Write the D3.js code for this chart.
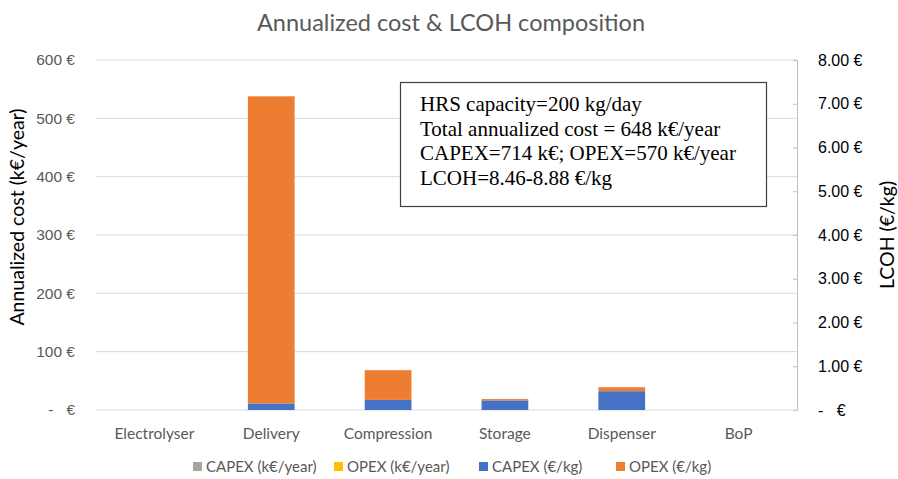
<!DOCTYPE html>
<html>
<head>
<meta charset="utf-8">
<script src="https://cdn.jsdelivr.net/npm/d3@7"></script>
<style>
  body { margin: 0; background: #fff; }
  svg { font-family: Lato, "Open Sans", sans-serif; }
  text { white-space: pre; }
</style>
</head>
<body>
<div id="chart"></div>
<script>
var width = 898;
var height = 479;
var margin = {top: 60, left: 96, right: 101, bottom: 69};

var categories = ["Electrolyser", "Delivery", "Compression", "Storage", "Dispenser", "BoP"];
var capexYear = [0, 0, 0, 0, 0, 0];        // k€/year
var opexYear = [0, 0, 0, 0, 0, 0];         // k€/year
var capexKg = [0, 0.15, 0.23, 0.22, 0.43, 0];  // €/kg
var opexKg = [0, 7.02, 0.68, 0.03, 0.09, 0];   // €/kg
var leftTicks = [0, 100, 200, 300, 400, 500, 600];
var rightTicks = [0, 1, 2, 3, 4, 5, 6, 7, 8];
var seriesNames = ["CAPEX (k€/year)", "OPEX (k€/year)", "CAPEX (€/kg)", "OPEX (€/kg)"];
var seriesColors = ["#A5A5A5", "#FFC000", "#4472C4", "#ED7D31"];
var noteLines = ["HRS capacity=200 kg/day",
                 "Total annualized cost = 648 k€/year",
                 "CAPEX=714 k€; OPEX=570 k€/year",
                 "LCOH=8.46-8.88 €/kg"];

var svg = d3.select("#chart")
  .append("svg")
  .attr("width", width)
  .attr("height", height);

var xScale = d3.scaleBand()
  .domain(categories)
  .range([margin.left, width - margin.right])
  .paddingInner(0.6)
  .paddingOuter(0.3);
var xBand = d3.scaleBand()
  .domain(categories)
  .range([margin.left, width - margin.right]);
var yLeft = d3.scaleLinear()
  .domain([0, 600])
  .range([height - margin.bottom, margin.top]);
var yRight = d3.scaleLinear()
  .domain([0, 8])
  .range([height - margin.bottom, margin.top]);

// gridlines
svg.append("g")
  .selectAll("line")
  .data(leftTicks.slice(1))
  .enter().append("line")
    .attr("x1", margin.left)
    .attr("x2", width - margin.right)
    .attr("y1", function(d){ return yLeft(d); })
    .attr("y2", function(d){ return yLeft(d); })
    .attr("stroke", "#D9D9D9")
    .attr("stroke-width", 1);

// left axis (labels only)
var leftAxis = svg.append("g")
  .attr("transform", `translate(${margin.left},0)`)
  .call(d3.axisLeft(yLeft).tickValues(leftTicks).tickSize(0).tickPadding(21)
    .tickFormat(function(d){ return d === 0 ? "-   €" : d + " €"; }));
leftAxis.select(".domain").remove();
leftAxis.selectAll("text").attr("fill", "#595959").attr("font-size", 15.5);

// right axis
var rightAxis = svg.append("g")
  .attr("transform", `translate(${width - margin.right},0)`)
  .call(d3.axisRight(yRight).tickValues(rightTicks).tickSizeInner(-4).tickSizeOuter(-4).tickPadding(21)
    .tickFormat(function(d){ return d === 0 ? "-   €" : d3.format(".2f")(d) + " €"; }));
rightAxis.select(".domain").attr("stroke", "#BFBFBF");
rightAxis.selectAll(".tick line").attr("stroke", "#BFBFBF");
rightAxis.selectAll("text").attr("fill", "#000").attr("font-size", 16);

// baseline
svg.append("line")
  .attr("x1", margin.left)
  .attr("x2", width - margin.right)
  .attr("y1", yLeft(0))
  .attr("y2", yLeft(0))
  .attr("stroke", "#D9D9D9");

// bars on left axis (k€/year)
var tableYear = categories.map(function(c, i){ return {cat: c, a: capexYear[i], b: opexYear[i]}; });
var stackYear = d3.stack().keys(["a", "b"])(tableYear);
svg.append("g").selectAll("g")
  .data(stackYear)
  .enter().append("g")
    .attr("fill", function(d, i){ return seriesColors[i]; })
  .selectAll("rect")
  .data(function(d){ return d; })
  .enter().append("rect")
    .attr("x", function(d){ return xScale(d.data.cat); })
    .attr("width", xScale.bandwidth())
    .attr("y", function(d){ return yLeft(d[1]); })
    .attr("height", function(d){ return yLeft(d[0]) - yLeft(d[1]); });

// bars on right axis (€/kg)
var tableKg = categories.map(function(c, i){ return {cat: c, a: capexKg[i], b: opexKg[i]}; });
var stackKg = d3.stack().keys(["a", "b"])(tableKg);
svg.append("g").selectAll("g")
  .data(stackKg)
  .enter().append("g")
    .attr("fill", function(d, i){ return seriesColors[i + 2]; })
  .selectAll("rect")
  .data(function(d){ return d; })
  .enter().append("rect")
    .attr("x", function(d){ return xScale(d.data.cat); })
    .attr("width", xScale.bandwidth())
    .attr("y", function(d){ return yRight(d[1]); })
    .attr("height", function(d){ return yRight(d[0]) - yRight(d[1]); });

// category labels
svg.append("g")
  .selectAll("text")
  .data(categories)
  .enter().append("text")
    .attr("x", function(d){ return xBand(d) + xBand.bandwidth() / 2; })
    .attr("y", 439)
    .attr("text-anchor", "middle")
    .attr("fill", "#595959")
    .attr("font-size", 15.5)
    .text(function(d){ return d; });

// title
svg.append("text")
  .attr("x", 451)
  .attr("y", 31)
  .attr("text-anchor", "middle")
  .attr("fill", "#595959")
  .attr("font-size", 23.5)
  .text("Annualized cost & LCOH composition");

// axis titles
svg.append("text")
  .attr("transform", "rotate(-90)")
  .attr("x", -217)
  .attr("y", 24)
  .attr("text-anchor", "middle")
  .attr("font-size", 19.5)
  .text("Annualized cost (k€/year)");
svg.append("text")
  .attr("transform", "rotate(-90)")
  .attr("x", -235)
  .attr("y", 894)
  .attr("text-anchor", "middle")
  .attr("font-size", 19.5)
  .text("LCOH (€/kg)");

// note box
svg.append("rect")
  .attr("x", 400.5)
  .attr("y", 82.5)
  .attr("width", 366)
  .attr("height", 124)
  .attr("fill", "#fff")
  .attr("stroke", "#404040")
  .attr("stroke-width", 1.2);
svg.append("g")
  .selectAll("text")
  .data(noteLines)
  .enter().append("text")
    .attr("x", 420)
    .attr("y", function(d, i){ return 111 + i * 24.5; })
    .attr("font-family", "'Liberation Serif', serif")
    .attr("font-size", 21)
    .attr("fill", "#000")
    .text(function(d){ return d; });

// legend
var legendX = [193, 334, 479, 616];
var legend = svg.append("g")
  .selectAll("g")
  .data(seriesNames)
  .enter().append("g")
    .attr("transform", function(d, i){ return `translate(${legendX[i]},467)`; });
legend.append("rect")
  .attr("x", 0).attr("y", -5)
  .attr("width", 9).attr("height", 9)
  .attr("fill", function(d, i){ return seriesColors[i]; });
legend.append("text")
  .attr("x", 13)
  .attr("y", 5)
  .attr("font-size", 15)
  .attr("fill", "#595959")
  .text(function(d){ return d; });
</script>
</body>
</html>
